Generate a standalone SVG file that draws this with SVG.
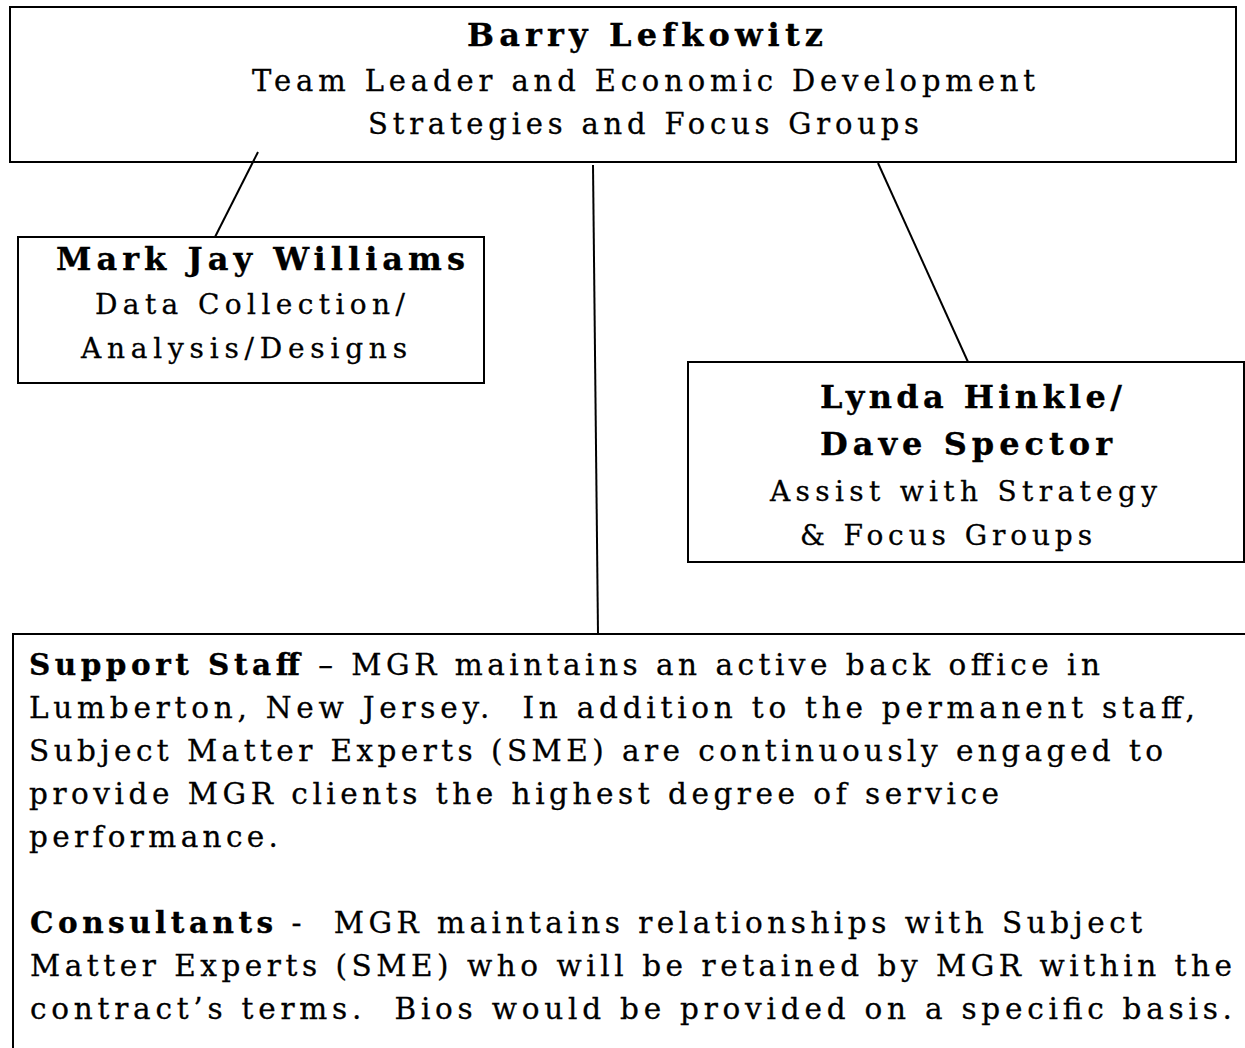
<svg xmlns="http://www.w3.org/2000/svg" width="1245" height="1048" viewBox="0 0 1245 1048">
  <style>
    .box { fill: #fff; stroke: #000; stroke-width: 2; }
    .edge { fill: none; stroke: #000; stroke-width: 2; }
    text { font-family: "DejaVu Serif", "Liberation Serif", serif; fill: #000; stroke: #000; stroke-width: 0.3; white-space: pre; }
    .name { font-weight: bold; font-size: 32px; }
    .role { font-size: 29px; }
    .sub { font-size: 28px; }
    .body { font-size: 29.5px; }
    .b { font-weight: bold; }
  </style>
  <rect width="1245" height="1048" fill="#fff"/>

  <!-- team leader -->
  <g id="barry">
    <rect class="box" x="10" y="7" width="1226" height="155"/>
    <text class="name" x="467" y="46" textLength="356" lengthAdjust="spacing">Barry Lefkowitz</text>
    <text class="role" x="252" y="91" textLength="783" lengthAdjust="spacing">Team Leader and Economic Development</text>
    <text class="role" x="368" y="134" textLength="551" lengthAdjust="spacing">Strategies and Focus Groups</text>
  </g>

  <!-- data collection lead -->
  <g id="mark">
    <rect class="box" x="18" y="237" width="466" height="146"/>
    <text class="name" x="56" y="270" textLength="409" lengthAdjust="spacing">Mark Jay Williams</text>
    <text class="sub" x="95" y="314" textLength="310" lengthAdjust="spacing">Data Collection/</text>
    <text class="sub" x="81" y="358" textLength="326" lengthAdjust="spacing">Analysis/Designs</text>
  </g>

  <!-- strategy assistants -->
  <g id="lynda-dave">
    <rect class="box" x="688" y="362" width="556" height="200"/>
    <text class="name" x="820" y="408" textLength="302" lengthAdjust="spacing">Lynda Hinkle/</text>
    <text class="name" x="820" y="455" textLength="292" lengthAdjust="spacing">Dave Spector</text>
    <text class="sub" x="770" y="501" textLength="387" lengthAdjust="spacing">Assist with Strategy</text>
    <text class="sub" x="800" y="545" textLength="292" lengthAdjust="spacing">&amp; Focus Groups</text>
  </g>

  <!-- support staff and consultants -->
  <g id="support">
    <path class="edge" d="M1250,634 H13 V1060"/>
    <text class="body" x="29" y="675" textLength="1071" lengthAdjust="spacing"><tspan class="b">Support Staff</tspan> – MGR maintains an active back office in</text>
    <text class="body" x="29" y="718" textLength="1166" lengthAdjust="spacing">Lumberton, New Jersey.  In addition to the permanent staff,</text>
    <text class="body" x="29" y="761" textLength="1134" lengthAdjust="spacing">Subject Matter Experts (SME) are continuously engaged to</text>
    <text class="body" x="29" y="804" textLength="970" lengthAdjust="spacing">provide MGR clients the highest degree of service</text>
    <text class="body" x="29" y="847" textLength="249" lengthAdjust="spacing">performance.</text>
    <text class="body" x="30" y="933" textLength="1112" lengthAdjust="spacing"><tspan class="b">Consultants</tspan> -  MGR maintains relationships with Subject</text>
    <text class="body" x="30" y="976" textLength="1202" lengthAdjust="spacing">Matter Experts (SME) who will be retained by MGR within the</text>
    <text class="body" x="30" y="1019" textLength="1202" lengthAdjust="spacing">contract’s terms.  Bios would be provided on a specific basis.</text>
  </g>

  <!-- reporting lines -->
  <g id="connectors">
    <line class="edge" x1="258" y1="152" x2="215" y2="237"/>
    <line class="edge" x1="593" y1="165" x2="598" y2="634"/>
    <line class="edge" x1="878" y1="163" x2="968" y2="362"/>
  </g>
</svg>
